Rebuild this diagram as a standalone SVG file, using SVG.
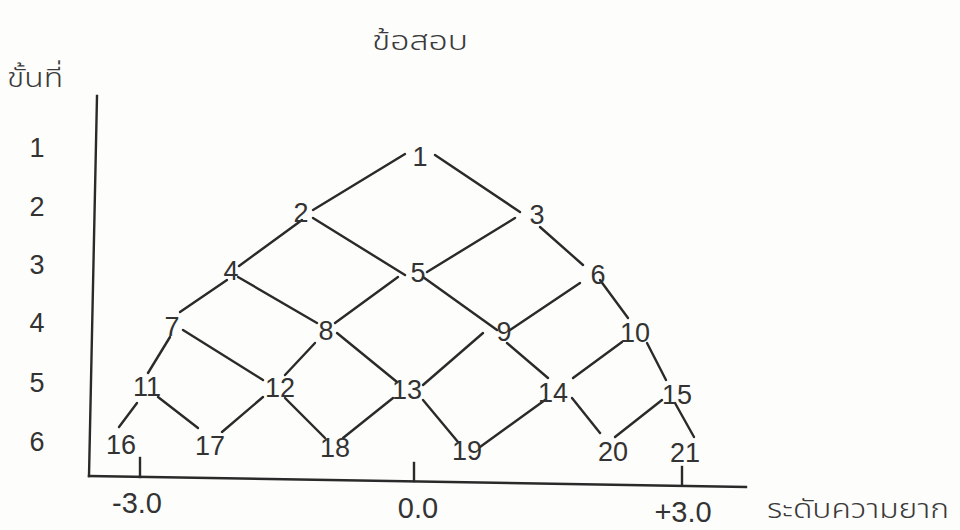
<svg xmlns="http://www.w3.org/2000/svg" width="960" height="530" viewBox="0 0 960 530">
  <style>
    .bg { fill: #fdfdfb; }
    .axis { stroke: #2a2a2a; stroke-width: 2.4; fill: none; stroke-linecap: square; }
    .edge { stroke: #2a2a2a; stroke-width: 2.4; fill: none; stroke-linecap: round; }
    .num { font-family: "Liberation Sans", Arial, sans-serif; font-size: 27px; fill: #333; text-anchor: middle; dominant-baseline: central; }
    .tick { font-family: "Liberation Sans", Arial, sans-serif; font-size: 29px; fill: #333; text-anchor: middle; dominant-baseline: central; }
    .thai { font-family: "Noto Sans Thai", "Noto Sans", "DejaVu Sans", sans-serif; font-size: 27px; font-weight: 300; fill: #3a3a3a; }
  </style>
  <rect class="bg" x="0" y="0" width="960" height="530"/>

  <g id="titles">
    <text class="thai" x="372" y="50" textLength="96" lengthAdjust="spacingAndGlyphs">ข้อสอบ</text>
    <text class="thai" x="7" y="87" textLength="56" lengthAdjust="spacingAndGlyphs">ขั้นที่</text>
    <text class="thai" x="767" y="518" font-size="26" textLength="182" lengthAdjust="spacingAndGlyphs">ระดับความยาก</text>
  </g>

  <g id="axes">
    <line class="axis" x1="97" y1="96" x2="89" y2="476"/>
    <line class="axis" x1="89" y1="476" x2="746" y2="487"/>
    <line class="axis" x1="140" y1="458" x2="140" y2="477"/>
    <line class="axis" x1="414" y1="463" x2="414" y2="481"/>
    <line class="axis" x1="682" y1="467" x2="682" y2="485"/>
    <text class="tick" x="137" y="503">-3.0</text>
    <text class="tick" x="418" y="508">0.0</text>
    <text class="tick" x="683" y="512">+3.0</text>
  </g>

  <g id="row-labels">
    <text class="num" x="37" y="148">1</text>
    <text class="num" x="37" y="207">2</text>
    <text class="num" x="37" y="265">3</text>
    <text class="num" x="37" y="323">4</text>
    <text class="num" x="37" y="383">5</text>
    <text class="num" x="37" y="442">6</text>
  </g>

  <g id="connectors">
    <line class="edge" x1="405" y1="154" x2="313" y2="210"/>
    <line class="edge" x1="435" y1="155" x2="520" y2="212"/>
    <line class="edge" x1="302" y1="220" x2="239" y2="266"/>
    <line class="edge" x1="313" y1="218" x2="405" y2="275"/>
    <line class="edge" x1="515" y1="218" x2="427" y2="272"/>
    <line class="edge" x1="540" y1="227" x2="583" y2="265"/>
    <line class="edge" x1="227" y1="280" x2="180" y2="312"/>
    <line class="edge" x1="238" y1="277" x2="317" y2="323"/>
    <line class="edge" x1="398" y1="277" x2="335" y2="323"/>
    <line class="edge" x1="423" y1="277" x2="497" y2="330"/>
    <line class="edge" x1="580" y1="283" x2="510" y2="330"/>
    <line class="edge" x1="600" y1="280" x2="628" y2="318"/>
    <line class="edge" x1="170" y1="337" x2="148" y2="373"/>
    <line class="edge" x1="183" y1="330" x2="263" y2="380"/>
    <line class="edge" x1="315" y1="343" x2="285" y2="375"/>
    <line class="edge" x1="337" y1="333" x2="397" y2="382"/>
    <line class="edge" x1="483" y1="333" x2="423" y2="385"/>
    <line class="edge" x1="507" y1="343" x2="548" y2="378"/>
    <line class="edge" x1="622" y1="342" x2="573" y2="378"/>
    <line class="edge" x1="647" y1="343" x2="666" y2="380"/>
    <line class="edge" x1="137" y1="403" x2="119" y2="427"/>
    <line class="edge" x1="158" y1="397" x2="198" y2="428"/>
    <line class="edge" x1="263" y1="397" x2="222" y2="432"/>
    <line class="edge" x1="285" y1="398" x2="325" y2="438"/>
    <line class="edge" x1="393" y1="398" x2="343" y2="438"/>
    <line class="edge" x1="423" y1="400" x2="458" y2="442"/>
    <line class="edge" x1="545" y1="400" x2="480" y2="447"/>
    <line class="edge" x1="572" y1="398" x2="600" y2="433"/>
    <line class="edge" x1="662" y1="400" x2="615" y2="437"/>
    <line class="edge" x1="675" y1="403" x2="694" y2="437"/>
  </g>

  <g id="node-1"><text class="num" x="420" y="157">1</text></g>
  <g id="node-2"><text class="num" x="301" y="213">2</text></g>
  <g id="node-3"><text class="num" x="537" y="215">3</text></g>
  <g id="node-4"><text class="num" x="231" y="271">4</text></g>
  <g id="node-5"><text class="num" x="418" y="273">5</text></g>
  <g id="node-6"><text class="num" x="598" y="275">6</text></g>
  <g id="node-7"><text class="num" x="172" y="327">7</text></g>
  <g id="node-8"><text class="num" x="326" y="331">8</text></g>
  <g id="node-9"><text class="num" x="504" y="332">9</text></g>
  <g id="node-10"><text class="num" x="635" y="333">10</text></g>
  <g id="node-11"><text class="num" x="147" y="387">11</text></g>
  <g id="node-12"><text class="num" x="280" y="388">12</text></g>
  <g id="node-13"><text class="num" x="407" y="390">13</text></g>
  <g id="node-14"><text class="num" x="553" y="393">14</text></g>
  <g id="node-15"><text class="num" x="677" y="395">15</text></g>
  <g id="node-16"><text class="num" x="121" y="445">16</text></g>
  <g id="node-17"><text class="num" x="210" y="446">17</text></g>
  <g id="node-18"><text class="num" x="335" y="448">18</text></g>
  <g id="node-19"><text class="num" x="467" y="451">19</text></g>
  <g id="node-20"><text class="num" x="613" y="452">20</text></g>
  <g id="node-21"><text class="num" x="685" y="453">21</text></g>
</svg>
